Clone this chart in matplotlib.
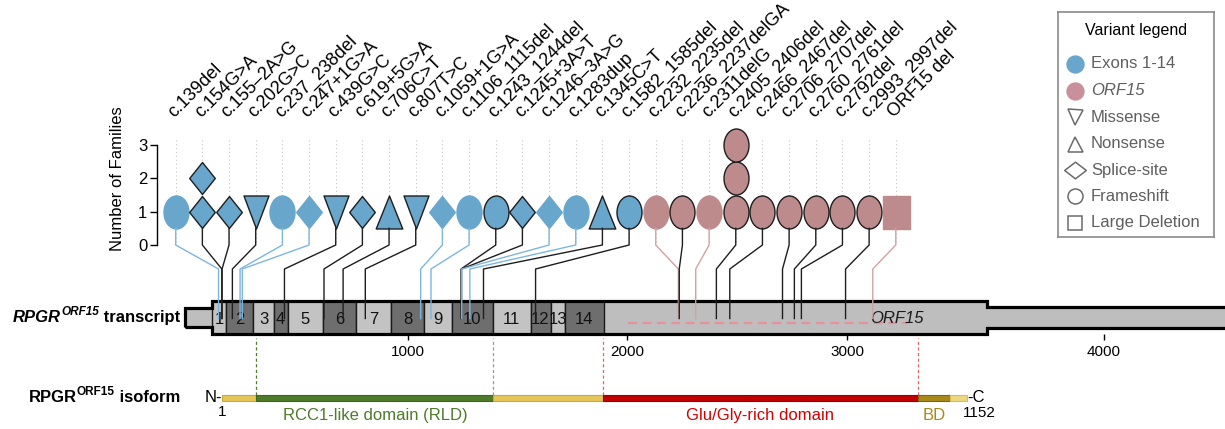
#!/usr/bin/env python3
"""
RPGR variant map
- lollipop panel: one column per variant, one marker per family
- RPGR ORF15 transcript with exons, variants linked to their cDNA position
- RPGR ORF15 protein isoform with its domains
"""

import numpy as np
import matplotlib
matplotlib.use("Agg")
import matplotlib.pyplot as plt
from matplotlib.path import Path
from matplotlib.patches import Rectangle, Polygon
from matplotlib.lines import Line2D

plt.rcParams['font.family'] = ['Liberation Sans', 'DejaVu Sans']

# ── Variants ──────────────────────────────────────────────────
variant_labels = [
    "c.139del", "c.154G>A", "c.155\u20132A>G", "c.202G>C", "c.237_238del",
    "c.247+1G>A", "c.439G>C", "c.619+5G>A", "c.706C>T", "c.807T>C",
    "c.1059+1G>A", "c.1106_1115del", "c.1243_1244del", "c.1245+3A>T",
    "c.1246\u20133A>G", "c.1283dup", "c.1345C>T", "c.1582_1585del",
    "c.2232_2235del", "c.2236_2237delGA", "c.2311delG", "c.2405_2406del",
    "c.2466_2467del", "c.2706_2707del", "c.2760_2761del", "c.2792del",
    "c.2993_2997del", "ORF15 del",
]
variant_pos = [139, 154, 155, 202, 237, 247, 439, 619, 706, 807,
               1059, 1106, 1243, 1245, 1246, 1283, 1345, 1582,
               2232, 2236, 2311, 2405, 2466, 2706, 2760, 2792, 2993, 3100]
families = [1, 2, 1, 1, 1, 1, 1, 1, 1, 1, 1, 1, 1, 1,
            1, 1, 1, 1, 1, 1, 1, 3, 1, 1, 1, 1, 1, 1]
# F frameshift, S splice-site, M missense, N nonsense, D large deletion
variant_type = ['F', 'S', 'S', 'M', 'F', 'S', 'M', 'S', 'N', 'M', 'S', 'F', 'F', 'S',
                'S', 'F', 'N', 'F', 'F', 'F', 'F', 'F', 'F', 'F', 'F', 'F', 'F', 'D']
in_orf15 = [0] * 18 + [1] * 10
outlined = [0, 1, 1, 1, 0, 0, 1, 1, 1, 1, 0, 0, 1, 1,
            0, 0, 1, 1, 0, 1, 0, 1, 1, 1, 1, 1, 1, 0]

# ── Transcript (cDNA positions) ───────────────────────────────
exon_names = [str(i) for i in range(1, 15)]
exon_start = [109, 173, 296, 391, 453, 613, 765, 922, 1076, 1202, 1386, 1559, 1650, 1714]
exon_end = exon_start[1:] + [1893]
tx_start, tx_wide_end, tx_end = -14, 3545, 5000
orf15_dash = (2003, 3241)
tx_ticks = [1000, 2000, 3000, 4000]

# ── Protein isoform (amino acids) ─────────────────────────────
dom_names = ["", "RCC1-like domain (RLD)", "", "Glu/Gly-rich domain", "BD", ""]
dom_start = [1, 54, 420, 590, 1075, 1125]
dom_end = [54, 420, 590, 1075, 1125, 1152]
dom_bounds = [54, 420, 590, 1075]
prot_len = 1152

# ── Legend ────────────────────────────────────────────────────
leg_labels = ["Exons 1-14", "ORF15", "Missense", "Nonsense",
              "Splice-site", "Frameshift", "Large Deletion"]

# ── Colours ───────────────────────────────────────────────────
BLUE, PINK = '#68A6CC', '#BD8B8B'
BLUE_LINE, PINK_LINE, DARK = '#7DB6DE', '#D2A2A2', '#1E1E1E'
dom_face = ['#E6C659', '#4E7B2A', '#E6C659', '#C00000', '#A8891A', '#ECD882']
dom_edge = ['#C9A93C', '#3C6520', '#C9A93C', '#9A0000', '#806512', '#D6BE5C']
dom_text = [None, '#4E7B2A', None, '#D40000', '#A8891A', None]
bound_col = ['#4E7B2A', '#93A086', '#E06666', '#E06666']

# ── Layout: pixel grid of the canvas ──────────────────────────
W, H = 1225, 429
COL0, COL_STEP = 175.7, 26.67      # lollipop columns
FAM0, FAM_STEP = 245.0, 33.33      # families axis
C0, C_STEP = 188.0, 0.2197         # cDNA position -> px
C_STRETCH = 1.169                  # axis drawn wider past c.3000
TX_MID, TX_HALF = 317.5, 16.5
AA0, AA_STEP = 222.0, 0.6476
PROT_MID, PROT_UNIT = 398.0, 6.0

fig = plt.figure(figsize=(W / 100, H / 100), dpi=100)


def px_axes(x0, y0, x1, y1):
    ax = fig.add_axes([x0 / W, 1 - y1 / H, (x1 - x0) / W, (y1 - y0) / H])
    ax.patch.set_visible(False)
    return ax


def poly_path(verts):
    v = np.array(verts, dtype=float)
    return Path(np.vstack([v, v[0]]), closed=True)


def ellipse_path(w, h):
    c = Path.unit_circle()
    return Path(c.vertices * [w / h, 1.0], c.codes)


SHAPES = {
    'F': (ellipse_path(25, 33), 33),
    'S': (poly_path([(0, 16), (12.8, 0), (0, -16), (-12.8, 0)]), 32),
    'M': (poly_path([(-12.5, 16.5), (12.5, 16.5), (0, -16.5)]), 33),
    'N': (poly_path([(-13.3, -16.5), (13.3, -16.5), (0, 16.5)]), 33),
    'D': (poly_path([(-13.5, -16.5), (13.5, -16.5), (13.5, 16.5), (-13.5, 16.5)]), 33),
}

# ── Lollipop panel ────────────────────────────────────────────
ax_top = px_axes(157, 50, 1045, 290)
ax_top.set_xlim((157 - COL0) / COL_STEP, (1045 - COL0) / COL_STEP)
ax_top.set_ylim((FAM0 - 290) / FAM_STEP, (FAM0 - 50) / FAM_STEP)
n_var = len(variant_labels)
idx = np.arange(n_var)

ax_top.vlines(idx, 0.1, 3.25, colors='#C8C8C8', linestyles=(0, (1, 2.5)), lw=0.8, zorder=1)
for i in range(n_var):
    fill = PINK if in_orf15[i] else BLUE
    edge = DARK if outlined[i] else fill
    path, h = SHAPES[variant_type[i]]
    for k in range(families[i]):
        ax_top.plot(i, k + 1, ls='none', marker=path, ms=h * 0.72,
                    mfc=fill, mec=edge, mew=1.0, zorder=3)
    ax_top.text(i - 0.05, 3.81, variant_labels[i], rotation=45, rotation_mode='anchor',
                ha='left', va='baseline', fontsize=13)

for s in ['top', 'right', 'bottom']:
    ax_top.spines[s].set_visible(False)
ax_top.spines['left'].set_bounds(0, 3)
ax_top.spines['left'].set_linewidth(1.0)
ax_top.set_xticks([])
ax_top.set_yticks([0, 1, 2, 3])
ax_top.tick_params(axis='y', length=5, width=1, labelsize=12, pad=2)
ax_top.set_ylabel("Number of Families", fontsize=12)
ax_top.yaxis.set_label_coords((125 - 157) / 888, (290 - 178.5) / 240)

# ── Transcript ────────────────────────────────────────────────
def fwd(c):
    return np.interp(c, [-5000, 3000, 9000], [-5000, 3000, 3000 + 6000 * C_STRETCH])


def inv(v):
    return np.interp(v, [-5000, 3000, 3000 + 6000 * C_STRETCH], [-5000, 3000, 9000])


ax_tx = px_axes(0, 290, W, 334)
ax_tx.set_xscale('function', functions=(fwd, inv))
ax_tx.set_xlim(inv((0 - C0) / C_STEP), inv((W - C0) / C_STEP))
ax_tx.set_ylim((TX_MID - 334) / TX_HALF, (TX_MID - 290) / TX_HALF)

outline = [(tx_start, -0.55), (exon_start[0], -0.55), (exon_start[0], -1),
           (tx_wide_end, -1), (tx_wide_end, -0.62), (tx_end, -0.62),
           (tx_end, 0.62), (tx_wide_end, 0.62), (tx_wide_end, 1),
           (exon_start[0], 1), (exon_start[0], 0.55), (tx_start, 0.55)]
ax_tx.add_patch(Polygon(outline, closed=True, fc='#BEBEBE', ec='none', zorder=1, clip_on=False))
for k, (s, e) in enumerate(zip(exon_start, exon_end)):
    ax_tx.add_patch(Rectangle((s, -1), e - s, 2, fc='#C3C3C3' if k % 2 == 0 else '#6E6E6E',
                              ec='#1A1A1A', lw=1.0, zorder=2, clip_on=False))
    ax_tx.text((s + e) / 2, -0.1, exon_names[k], ha='center', va='center',
               fontsize=12, color='#111111', zorder=5)
ax_tx.add_patch(Polygon(outline, closed=True, fc='none', ec='black', lw=2.3,
                        joinstyle='miter', zorder=3, clip_on=False))
ax_tx.plot(orf15_dash, [-0.33, -0.33], color='#E8919D', lw=1.6, dashes=(4, 2.5),
           zorder=4, clip_on=False)
ax_tx.text(3194, -0.05, "ORF15", style='italic', fontsize=12, ha='center', va='center',
           color='#1A1A1A', zorder=5)

for s in ax_tx.spines.values():
    s.set_visible(False)
ax_tx.get_yaxis().set_visible(False)
ax_tx.set_xticks(tx_ticks, labels=[str(t) for t in tx_ticks])
ax_tx.xaxis.set_minor_locator(matplotlib.ticker.NullLocator())
ax_tx.tick_params(axis='x', length=4, width=1, labelsize=11, pad=4, direction='out')

# ── Protein isoform ───────────────────────────────────────────
ax_prot = px_axes(0, 334, W, H)
ax_prot.set_xlim(1 - AA0 / AA_STEP, 1 + (W - AA0) / AA_STEP)
ax_prot.set_ylim((PROT_MID - H) / PROT_UNIT, (PROT_MID - 334) / PROT_UNIT)
ax_prot.axis('off')

widths = np.array(dom_end) - np.array(dom_start)
ax_prot.barh(0, widths, left=dom_start, height=1.0, color=dom_face,
             edgecolor=dom_edge, lw=0.8, zorder=3)
ax_prot.vlines(dom_bounds, 0.5, 10.0, colors=bound_col, linestyles=(0, (2.5, 2)),
               lw=0.9, zorder=2)
for name, s, e, c in zip(dom_names, dom_start, dom_end, dom_text):
    if name:
        ax_prot.text((s + e) / 2, -2.9, name, ha='center', va='center', fontsize=12, color=c)
ax_prot.text(1, 0, "N-", ha='right', va='center', fontsize=12)
ax_prot.text(1, -2.4, "1", ha='center', va='center', fontsize=11)
ax_prot.text(prot_len, 0, "-C", ha='left', va='center', fontsize=12)
ax_prot.text(prot_len + 18, -2.5, str(prot_len), ha='center', va='center', fontsize=11)

# ── Row titles (RPGR^ORF15 ...) ───────────────────────────────
def row_title(y_base, word, italic):
    style = 'italic' if italic else 'normal'
    base = fig.text(180 / W, 1 - y_base / H, " " + word, ha='right', va='baseline',
                    fontsize=12, fontweight='bold')
    sup = ax_prot.annotate("ORF15", xy=(0, 0.66), xycoords=base, ha='right', va='baseline',
                           fontsize=8.5, fontweight='bold', style=style,
                           annotation_clip=False)
    ax_prot.annotate("RPGR", xy=(0, 0), xycoords=(sup, base), ha='right', va='bottom',
                     fontsize=12, fontweight='bold', style=style, annotation_clip=False)


row_title(322, "transcript", True)
row_title(402, "isoform", False)

# ── Legend ────────────────────────────────────────────────────
ROW0, ROW_STEP = 64.0, 26.5
ax_leg = px_axes(1058, 12, 1214, 237)
ax_leg.patch.set_visible(True)
ax_leg.set_xlim(0, 1)
ax_leg.set_ylim((237 - ROW0) / ROW_STEP, (12 - ROW0) / ROW_STEP)
ax_leg.set_xticks([])
ax_leg.set_yticks([])
for s in ax_leg.spines.values():
    s.set_color('#8A8A8A')
    s.set_linewidth(1.2)

leg_markers = [('o', 12.2, BLUE), ('o', 12.2, '#C8909A'), ('v', 10.8, None), ('^', 10.8, None),
               (poly_path([(0, 8.35), (10.85, 0), (0, -8.35), (-10.85, 0)]), 15.6, None),
               ('o', 10.8, None), ('s', 9.6, None)]
ax_leg.text(0.5, -1.25, "Variant legend", ha='center', va='center', fontsize=11.5)
for k, (lab, (m, ms, fc)) in enumerate(zip(leg_labels, leg_markers)):
    if fc:
        ax_leg.plot(0.109, k, ls='none', marker=m, ms=ms, mfc=fc, mec=fc)
    else:
        ax_leg.plot(0.109, k, ls='none', marker=m, ms=ms, mfc='none', mec='#6B6B6B', mew=1.1)
    ax_leg.text(0.212, k, lab, ha='left', va='center', fontsize=12, color='#5F5F5F',
                style='italic' if lab == "ORF15" else 'normal')

# ── Connectors: marker column -> cDNA position on the transcript ─
Y_BEND = (TX_MID - 269) / TX_HALF
Y_END = (TX_MID - 318.5) / TX_HALF
to_fig = fig.transFigure.inverted()
for i in range(n_var):
    pts = np.array([ax_top.transData.transform((i, 0.5)),
                    ax_top.transData.transform((i, 0.0)),
                    ax_tx.transData.transform((variant_pos[i], Y_BEND)),
                    ax_tx.transData.transform((variant_pos[i], Y_END))])
    pts = to_fig.transform(pts)
    if outlined[i]:
        col = DARK
    else:
        col = PINK_LINE if in_orf15[i] else BLUE_LINE
    fig.add_artist(Line2D(pts[:, 0], pts[:, 1], color=col, lw=1.0, zorder=5))

fig.savefig("out.png", dpi=100)
